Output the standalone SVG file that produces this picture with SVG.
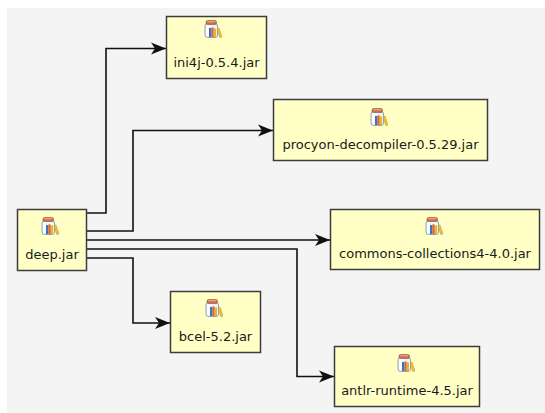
<svg xmlns="http://www.w3.org/2000/svg" width="545" height="413" viewBox="0 0 545 413">
<style>
.box{fill:#ffffc6;stroke:#3c3c3c;stroke-width:1.5}
.lbl{font-family:"DejaVu Sans","Liberation Sans",sans-serif;font-size:13px;fill:#1a1a1a;text-anchor:middle}
.edge{fill:none;stroke:#111;stroke-width:1.6}
</style>
<defs>
<marker id="arr" markerUnits="userSpaceOnUse" markerWidth="16" markerHeight="14" refX="15" refY="7" orient="auto">
<path d="M0,1 L15,7 L0,13 L4,7 Z" fill="#111"/>
</marker>
<symbol id="jar" viewBox="0 0 18 18">
<rect x="1" y="3.5" width="12.5" height="14" rx="2.5" fill="#eef4fb" stroke="#8a97a8" stroke-width="0.9"/>
<rect x="2.5" y="5" width="2" height="11" fill="#ffffff"/>
<rect x="5" y="8" width="2.2" height="9" fill="#3f6fc6"/>
<rect x="7.3" y="7.5" width="2.4" height="9.5" fill="#d8672c"/>
<rect x="9.8" y="8.5" width="2.2" height="8.5" fill="#e6b530"/>
<path d="M13,9 L15,8 L18,17 L15.8,17.6 Z" fill="#f0c440" stroke="#b58a20" stroke-width="0.5"/>
<rect x="2" y="0.5" width="10.5" height="4" rx="1.6" fill="#c9704e" stroke="#9a4a30" stroke-width="0.6"/>
<rect x="3" y="1" width="8.5" height="1.2" rx="0.6" fill="#e7a588"/>
</symbol>
</defs>
<rect x="0" y="0" width="545" height="413" fill="#ffffff"/>
<rect x="7" y="8" width="538" height="405" fill="#f4f4f4"/>
<g id="connectors">
<path class="edge" d="M87,213 H106 V48.5 H166" marker-end="url(#arr)"/>
<path class="edge" d="M87,231 H133 V130.5 H273" marker-end="url(#arr)"/>
<path class="edge" d="M87,240 H330" marker-end="url(#arr)"/>
<path class="edge" d="M87,249 H297 V376.5 H334" marker-end="url(#arr)"/>
<path class="edge" d="M87,258 H133 V323 H170" marker-end="url(#arr)"/>
</g>
<g id="node-ini4j">
<rect class="box" x="166.5" y="16.5" width="100" height="62"/>
<use href="#jar" x="204" y="20" width="18" height="18"/>
<text class="lbl" x="216.5" y="66.5">ini4j-0.5.4.jar</text>
</g>
<g id="node-procyon">
<rect class="box" x="273.5" y="99.5" width="214" height="61"/>
<use href="#jar" x="370" y="108" width="18" height="18"/>
<text class="lbl" x="380.5" y="149">procyon-decompiler-0.5.29.jar</text>
</g>
<g id="node-commons">
<rect class="box" x="330.5" y="209.5" width="209" height="60"/>
<use href="#jar" x="425" y="217" width="18" height="18"/>
<text class="lbl" x="435" y="258">commons-collections4-4.0.jar</text>
</g>
<g id="node-deep">
<rect class="box" x="17.5" y="209.5" width="69" height="61"/>
<use href="#jar" x="41" y="217" width="18" height="18"/>
<text class="lbl" x="52" y="259">deep.jar</text>
</g>
<g id="node-bcel">
<rect class="box" x="170.5" y="291.5" width="90" height="61"/>
<use href="#jar" x="205" y="299" width="18" height="18"/>
<text class="lbl" x="215.5" y="341">bcel-5.2.jar</text>
</g>
<g id="node-antlr">
<rect class="box" x="334.5" y="346.5" width="145" height="60"/>
<use href="#jar" x="397" y="354" width="18" height="18"/>
<text class="lbl" x="407" y="395">antlr-runtime-4.5.jar</text>
</g>
</svg>
